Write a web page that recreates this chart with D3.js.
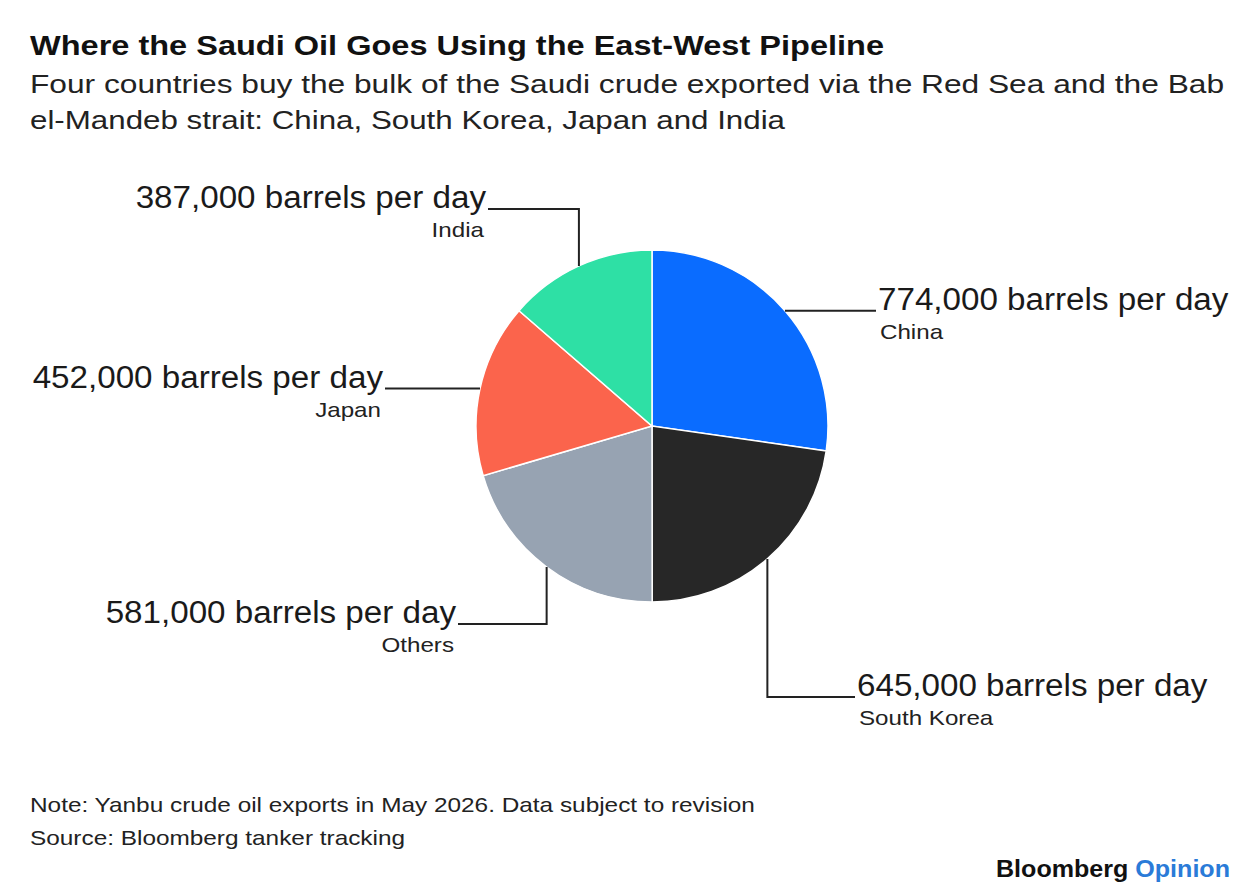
<!DOCTYPE html>
<html>
<head>
<meta charset="utf-8">
<script src="https://cdn.jsdelivr.net/npm/d3@7"></script>
<style>
  html, body { margin: 0; padding: 0; background: #fff; }
  svg { display: block; font-family: "Liberation Sans", Arial, sans-serif; }
</style>
</head>
<body>
<svg id="chart" width="1248" height="888"></svg>
<script>
// Yanbu crude exports by destination, barrels per day (clockwise from 12 o'clock)
const countries = ["China", "South Korea", "Others", "Japan", "India"];
const barrels = [774000, 645000, 581000, 452000, 387000];
const colors = ["#0a6cff", "#272727", "#97a3b2", "#fb644c", "#2ee0a5"];

const title = "Where the Saudi Oil Goes Using the East-West Pipeline";
const subtitle = [
  "Four countries buy the bulk of the Saudi crude exported via the Red Sea and the Bab",
  "el-Mandeb strait: China, South Korea, Japan and India"
];
const notes = [
  "Note: Yanbu crude oil exports in May 2026. Data subject to revision",
  "Source: Bloomberg tanker tracking"
];

const width = 1248, height = 888;
const cx = 652, cy = 426, radius = 176;

const svg = d3.select("#chart");

// the reference face is wider than Arial; stretch text horizontally by k
const stretch = (sel, k) => {
  const w = sel.node().getComputedTextLength();
  sel.attr("textLength", w * k).attr("lengthAdjust", "spacingAndGlyphs");
  return sel;
};

// how each connector leaves the slice: optional vertical leg, then horizontal leg to the text
const labelLayout = {
  "China":       { side: "right", turnY: null, endX: 876 },
  "South Korea": { side: "right", turnY: 697, endX: 855 },
  "Others":      { side: "left",  turnY: 624, endX: 458 },
  "Japan":       { side: "left",  turnY: null, endX: 385 },
  "India":       { side: "left",  turnY: 209, endX: 488 }
};

// ---- header
svg.append("text")
  .attr("x", 30).attr("y", 55)
  .attr("font-size", 27).attr("font-weight", 700).attr("fill", "#111")
  .attr("textLength", 854).attr("lengthAdjust", "spacingAndGlyphs")
  .text(title);

const subWidths = [1194, 755];
subtitle.forEach((line, i) => {
  svg.append("text")
    .attr("x", 30).attr("y", 93 + i * 36)
    .attr("font-size", 26).attr("fill", "#222")
    .attr("textLength", subWidths[i]).attr("lengthAdjust", "spacingAndGlyphs")
    .text(line);
});

// ---- pie
const data = countries.map((c, i) => ({ country: c, value: barrels[i], color: colors[i] }));

const pie = d3.pie().value(d => d.value).sort(null);
const arc = d3.arc().innerRadius(0).outerRadius(radius);
const arcs = pie(data);

const g = svg.append("g").attr("transform", `translate(${cx},${cy})`);

g.selectAll("path.slice")
  .data(arcs)
  .join("path")
  .attr("class", "slice")
  .attr("d", arc)
  .attr("fill", d => d.data.color)
  .attr("stroke", "#fff")
  .attr("stroke-width", 1.5);

// ---- labels with elbow connectors
const fmt = d3.format(",");

arcs.forEach(a => {
  const lay = labelLayout[a.data.country];
  const mid = (a.startAngle + a.endAngle) / 2;
  const x0 = cx + radius * Math.sin(mid);
  const y0 = cy - radius * Math.cos(mid);
  const yLine = lay.turnY == null ? y0 : lay.turnY;

  const pts = [[x0, y0]];
  if (lay.turnY != null) pts.push([x0, lay.turnY]);
  pts.push([lay.endX, yLine]);

  svg.append("path")
    .attr("d", d3.line()(pts))
    .attr("fill", "none")
    .attr("stroke", "#222")
    .attr("stroke-width", 2);

  const right = lay.side === "right";
  const tx = right ? lay.endX + 2 : lay.endX - 2;
  const anchor = right ? "start" : "end";

  const val = svg.append("text")
    .attr("x", tx).attr("y", yLine - 1)
    .attr("text-anchor", anchor)
    .attr("font-size", 31).attr("fill", "#1a1a1a")
    .text(`${fmt(a.data.value)} barrels per day`);
  stretch(val, 1.07);

  const name = svg.append("text")
    .attr("x", right ? tx + 2 : tx - 2).attr("y", yLine + 28)
    .attr("text-anchor", anchor)
    .attr("font-size", 21).attr("fill", "#222")
    .text(a.data.country);
  stretch(name, 1.15);
});

// ---- footer
notes.forEach((line, i) => {
  const t = svg.append("text")
    .attr("x", 30).attr("y", 812 + i * 33)
    .attr("font-size", 21).attr("fill", "#222")
    .text(line);
  stretch(t, 1.16);
});

const brand = svg.append("text")
  .attr("x", 1230).attr("y", 877)
  .attr("text-anchor", "end")
  .attr("font-size", 23).attr("font-weight", 700).attr("fill", "#111");
brand.append("tspan").text("Bloomberg ");
brand.append("tspan").attr("fill", "#2a7bd8").text("Opinion");
stretch(brand, 1.09);
</script>
</body>
</html>
